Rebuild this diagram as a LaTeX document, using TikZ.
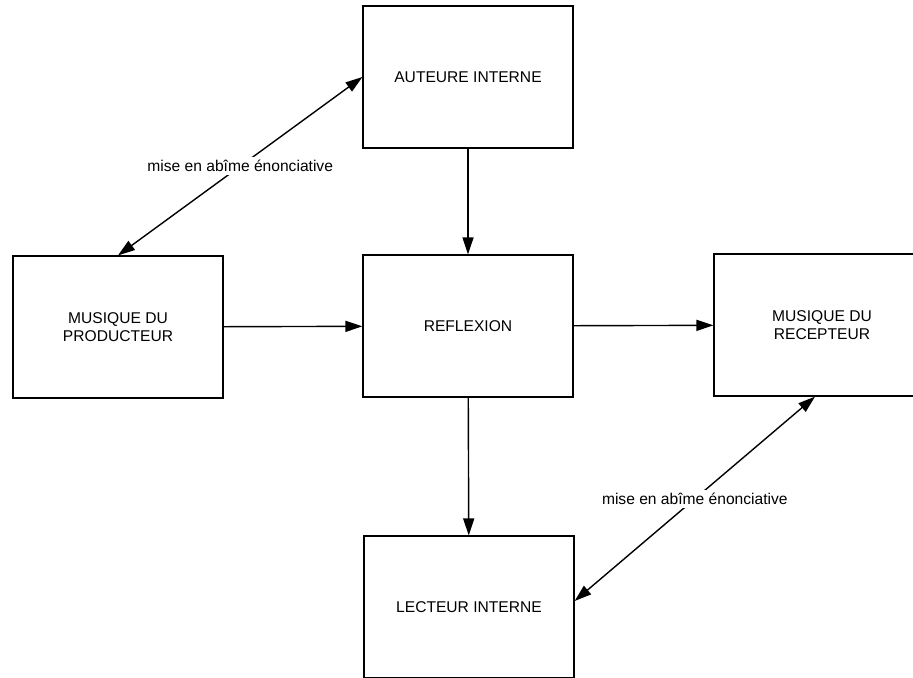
\documentclass[tikz,border=0pt]{standalone}
\usepackage{fontspec}
\setmainfont{Liberation Sans}
\usepackage{tikz}
\usetikzlibrary{arrows.meta}

\begin{document}
\begin{tikzpicture}[x=0.5pt,y=-0.5pt,
	bloc/.style={shape=rectangle,draw,line width=0.6pt,minimum width=105pt,minimum height=71pt,inner sep=0pt,align=center,font=\fontsize{7.8}{9}\selectfont},
	fleche/.style={line width=0.7pt,-{Triangle[length=8.5pt,width=5.5pt]}},
	double/.style={line width=0.7pt,{Triangle[length=8.5pt,width=5.5pt]}-{Triangle[length=8.5pt,width=5.5pt]}},
	etiq/.style={fill=white,inner sep=1.5pt,font=\fontsize{7.8}{9}\selectfont}]
	\clip (0,0) rectangle (913,677);
	\node[bloc] (auteur) at (468,77) {AUTEURE INTERNE};
	\node[bloc] (reflexion) at (468,326) {REFLEXION};
	\node[bloc] (producteur) at (118,327) {MUSIQUE DU\\PRODUCTEUR};
	\node[bloc,minimum width=108pt] (recepteur) at (822,325) {MUSIQUE DU\\RECEPTEUR};
	\node[bloc] (lecteur) at (469,607) {LECTEUR INTERNE};
	
	\path [fleche] (auteur) edge (reflexion);
	\path [fleche] (producteur) edge (reflexion);
	\path [fleche] (reflexion) edge (recepteur);
	\path [fleche] (reflexion) edge (lecteur);
	\path [double] (producteur.north) edge node[etiq] {mise en abîme énonciative} (auteur.west);
	\path [double] ([xshift=-3.5pt]recepteur.south) edge node[etiq] {mise en abîme énonciative} ([yshift=3pt]lecteur.east);
\end{tikzpicture}
\end{document}
